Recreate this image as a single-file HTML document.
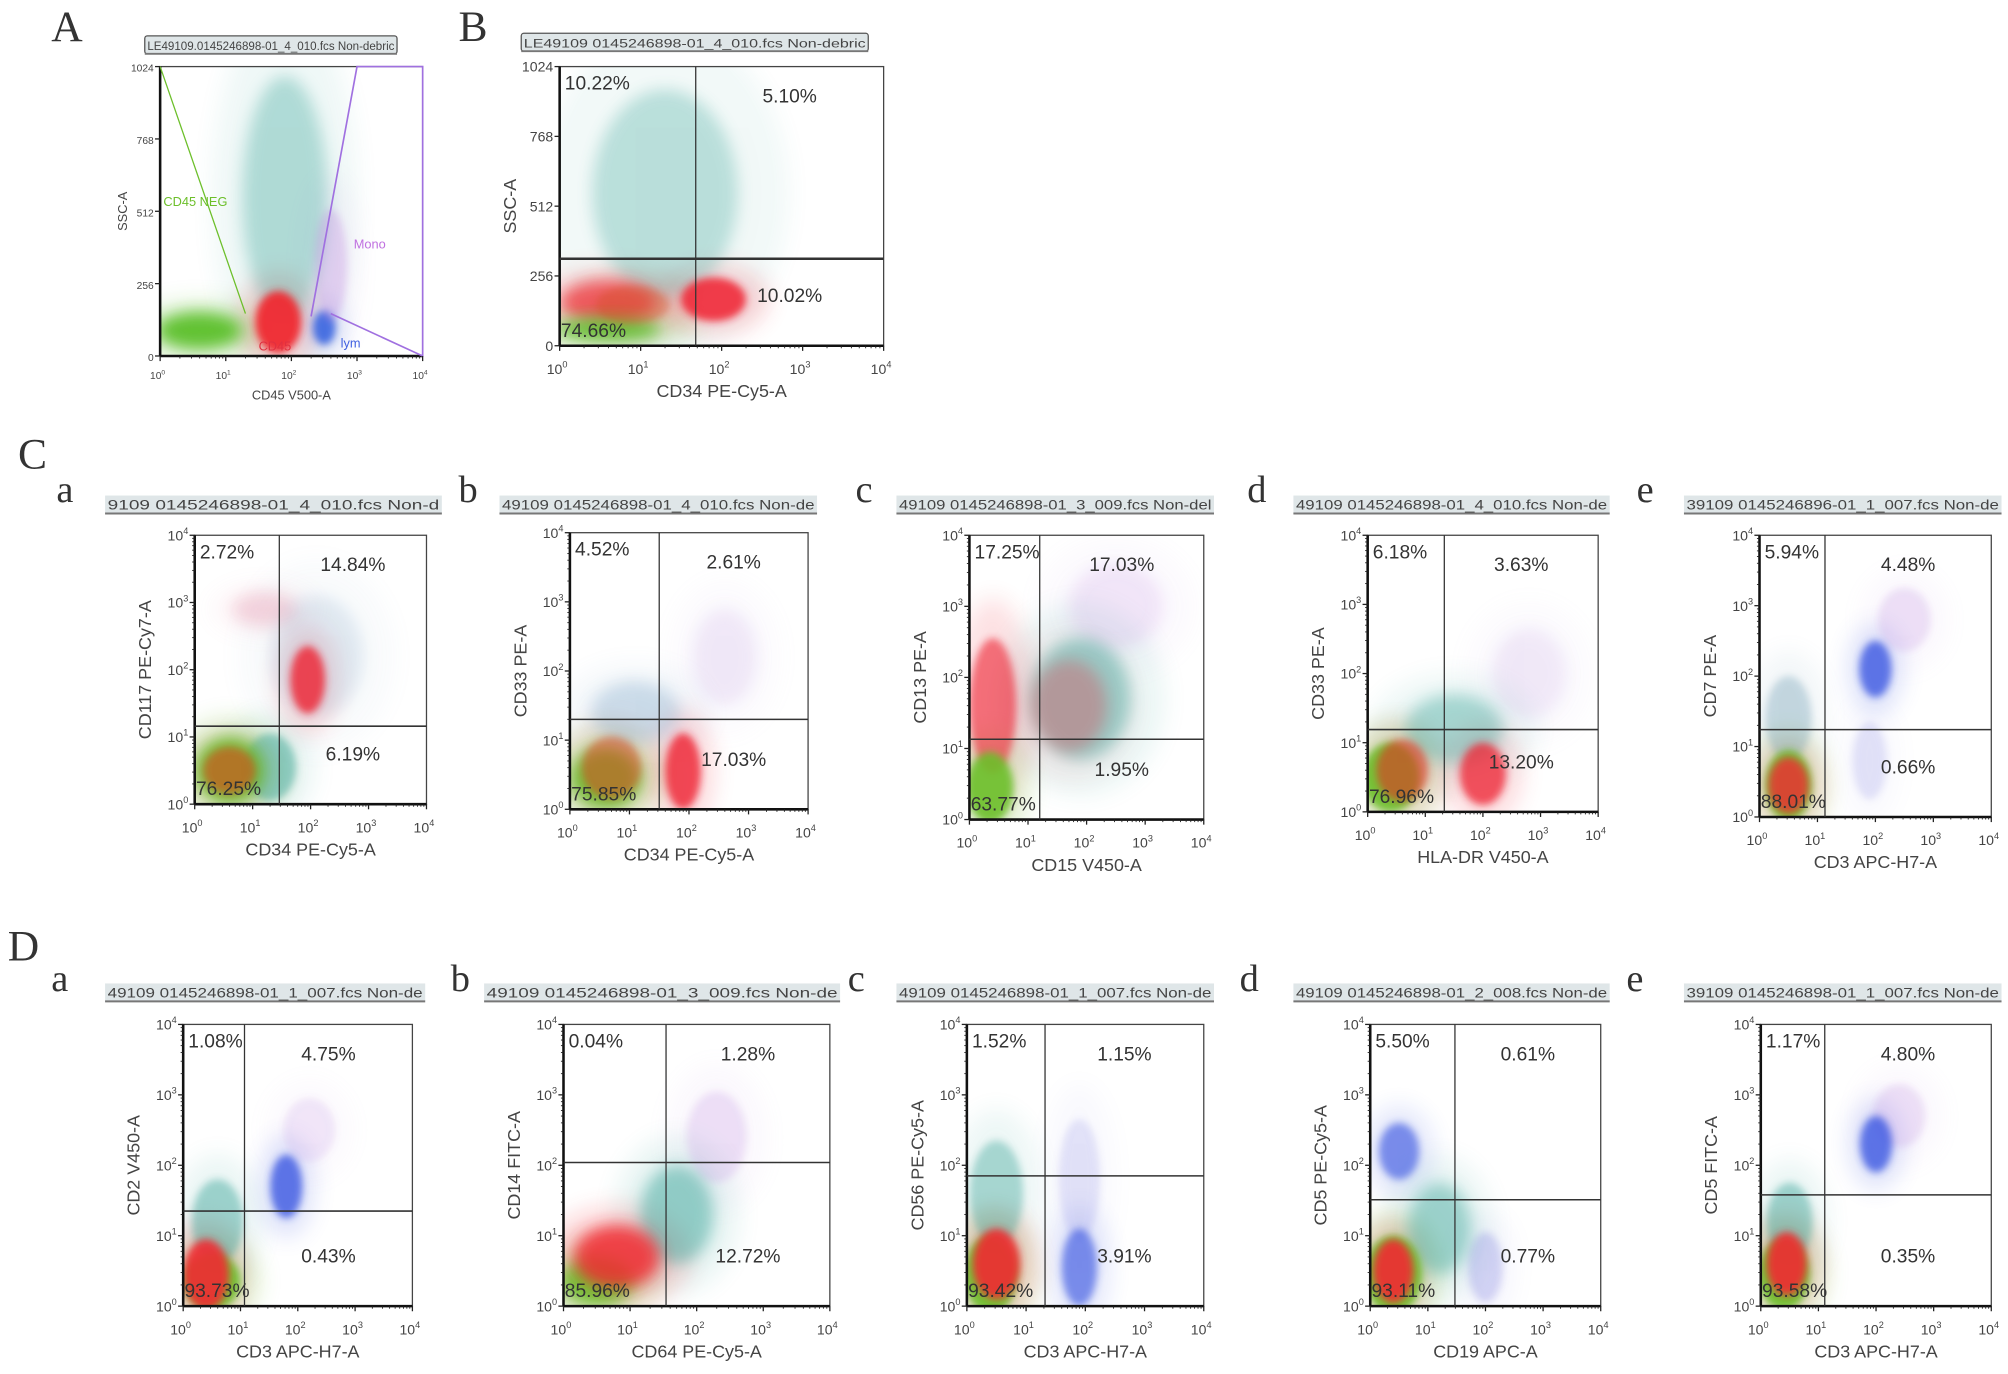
<!DOCTYPE html>
<html><head><meta charset="utf-8"><style>
html,body{margin:0;padding:0;background:#fff;}
svg{display:block;}
text{font-family:"Liberation Sans",sans-serif;}
.let{font-family:"Liberation Serif",serif;}
</style></head><body>
<svg id="fig" width="2008" height="1374" viewBox="0 0 1568 1073" xmlns="http://www.w3.org/2000/svg">
<defs>
<filter id="bl" x="-50%" y="-50%" width="200%" height="200%"><feGaussianBlur stdDeviation="3"/></filter>
<filter id="bl2" x="-50%" y="-50%" width="200%" height="200%"><feGaussianBlur stdDeviation="6"/></filter>
<filter id="bl3" x="-50%" y="-50%" width="200%" height="200%"><feGaussianBlur stdDeviation="9"/></filter>
</defs>
</svg>
<script>
// ---- data arrays ----
const panelIds = ["A","B","Ca","Cb","Cc","Cd","Ce","Da","Db","Dc","Dd","De"];
const headerTexts = [
"LE49109.0145246898-01_4_010.fcs   Non-debric","LE49109 0145246898-01_4_010.fcs   Non-debric",
"9109 0145246898-01_4_010.fcs   Non-d","49109 0145246898-01_4_010.fcs   Non-de","49109 0145246898-01_3_009.fcs   Non-del",
"49109 0145246898-01_4_010.fcs   Non-de","39109 0145246896-01_1_007.fcs   Non-de",
"49109 0145246898-01_1_007.fcs   Non-de","49109 0145246898-01_3_009.fcs   Non-de","49109 0145246898-01_1_007.fcs   Non-de",
"49109 0145246898-01_2_008.fcs   Non-de","39109 0145246898-01_1_007.fcs   Non-de"];
const xLabels = ["CD45 V500-A","CD34 PE-Cy5-A","CD34 PE-Cy5-A","CD34 PE-Cy5-A","CD15 V450-A","HLA-DR V450-A","CD3 APC-H7-A","CD3 APC-H7-A","CD64 PE-Cy5-A","CD3 APC-H7-A","CD19 APC-A","CD3 APC-H7-A"];
const yLabels = ["SSC-A","SSC-A","CD117 PE-Cy7-A","CD33 PE-A","CD13 PE-A","CD33 PE-A","CD7 PE-A","CD2 V450-A","CD14 FITC-A","CD56 PE-Cy5-A","CD5 PE-Cy5-A","CD5 FITC-A"];
const quadX = [null,1.68,1.46,1.5,1.2,1.33,1.13,1.07,1.54,1.32,1.47,1.11];
const quadY = [null,319,1.16,1.3,1.13,1.19,1.24,1.35,2.04,1.85,1.51,1.58];
const pctUL = ["","10.22%","2.72%","4.52%","17.25%","6.18%","5.94%","1.08%","0.04%","1.52%","5.50%","1.17%"];
const pctUR = ["","5.10%","14.84%","2.61%","17.03%","3.63%","4.48%","4.75%","1.28%","1.15%","0.61%","4.80%"];
const pctLL = ["","74.66%","76.25%","75.85%","63.77%","76.96%","88.01%","93.73%","85.96%","93.42%","93.11%","93.58%"];
const pctLR = ["","10.02%","6.19%","17.03%","1.95%","13.20%","0.66%","0.43%","12.72%","3.91%","0.77%","0.35%"];
// clusters: [x(log10), y, spreadX, spreadY, colour, opacity]
const clustersA = [[1.9,560,0.65,430,"#3aa59a",0.35],[0.6,90,0.65,65,"#5cbf2a",0.95],[1.8,120,0.35,110,"#f02a30",0.95],[2.5,100,0.17,60,"#3060e0",0.85],[2.6,320,0.25,200,"#c080e0",0.3]];
const clustersB = [[1.3,560,0.9,380,"#3aa59a",0.3],[0.6,160,0.6,80,"#ee2a33",0.7],[1.9,170,0.4,80,"#f02030",0.85],[0.6,60,0.65,45,"#5cbf2a",0.85],[0.9,150,0.45,70,"#d05020",0.4]];
const clustersCa = [[2.1,2.2,0.8,0.9,"#7aa0c0",0.2],[1.3,0.55,0.45,0.5,"#3aa59a",0.5],[0.6,0.5,0.6,0.5,"#6cb82a",0.9],[0.6,0.5,0.45,0.35,"#d94a1a",0.6],[1.95,1.85,0.3,0.5,"#ee2233",0.8],[1.2,2.9,0.55,0.25,"#e07090",0.25]];
const clustersCb = [[2.6,2.2,0.55,0.7,"#c0a0e0",0.2],[1.1,1.4,0.75,0.45,"#6a9ac0",0.3],[0.6,0.45,0.6,0.45,"#6cb82a",0.9],[0.7,0.6,0.5,0.45,"#e04020",0.5],[1.9,0.55,0.3,0.55,"#ee2233",0.8]];
const clustersCc = [[2.5,3.0,0.8,0.6,"#c090e0",0.2],[1.9,1.7,0.85,0.85,"#3aa59a",0.45],[1.7,1.6,0.65,0.65,"#e04050",0.35],[0.4,1.6,0.4,0.95,"#ee2233",0.6],[0.35,0.45,0.4,0.5,"#6cbf2a",0.9]];
const clustersCd = [[2.8,2.0,0.65,0.65,"#c0a0e0",0.2],[1.5,1.2,0.85,0.5,"#3aa59a",0.4],[0.4,0.5,0.5,0.5,"#6cbf2a",0.9],[0.6,0.6,0.45,0.45,"#e03020",0.6],[2.0,0.55,0.4,0.45,"#ee2233",0.75]];
const clustersCe = [[2.5,2.8,0.45,0.45,"#c090e0",0.25],[1.9,0.8,0.3,0.55,"#8080e0",0.2],[0.5,1.4,0.4,0.6,"#6a9ab0",0.35],[0.5,0.45,0.4,0.5,"#6cbf2a",0.9],[0.5,0.45,0.35,0.4,"#f02a30",0.8],[2.0,2.1,0.28,0.4,"#3050e0",0.75]];
const clustersDa = [[2.2,2.5,0.45,0.45,"#c090e0",0.2],[0.6,1.2,0.45,0.6,"#3aa59a",0.45],[0.5,0.35,0.5,0.4,"#6cbf2a",0.9],[0.4,0.45,0.4,0.5,"#f02a30",0.9],[1.8,1.7,0.28,0.45,"#3050e0",0.75]];
const clustersDb = [[2.3,2.4,0.45,0.65,"#c090e0",0.25],[1.7,1.3,0.55,0.7,"#3aa59a",0.5],[0.5,0.35,0.55,0.35,"#6cbf2a",0.9],[0.8,0.7,0.65,0.45,"#f02a30",0.85]];
const clustersDc = [[1.9,1.8,0.35,0.85,"#8080e0",0.2],[0.5,1.6,0.45,0.75,"#3aa59a",0.4],[0.4,0.45,0.45,0.55,"#6cbf2a",0.9],[0.5,0.6,0.4,0.5,"#f02a30",0.9],[1.9,0.55,0.3,0.55,"#3050e0",0.6]];
const clustersDd = [[2.0,0.55,0.3,0.5,"#8080e0",0.3],[1.2,1.1,0.55,0.65,"#3aa59a",0.45],[0.4,0.45,0.5,0.55,"#6cbf2a",0.9],[0.4,0.5,0.35,0.45,"#f02a30",0.9],[0.5,2.2,0.35,0.4,"#3050e0",0.6]];
const clustersDe = [[2.4,2.7,0.45,0.45,"#c090e0",0.25],[0.5,1.2,0.4,0.55,"#3aa59a",0.45],[0.4,0.45,0.45,0.5,"#6cbf2a",0.9],[0.45,0.6,0.35,0.45,"#f02a30",0.9],[2.0,2.3,0.28,0.4,"#3050e0",0.75]];
const clusterSets = [clustersA,clustersB,clustersCa,clustersCb,clustersCc,clustersCd,clustersCe,clustersDa,clustersDb,clustersDc,clustersDd,clustersDe];
const logTicks = [0,1,2,3,4];
const linTicks = [0,256,512,768,1024];

// ---- layout (displayed units) ----
const boxes = [[125,52,330,278],[437,52,690,270],[152,418,333,628],[445,416,631,632],[757,418,940,640],[1068,418,1248,634],[1374,418,1555,638],[143,800,322,1020],[440,800,648,1020],[755,800,940,1020],[1070,800,1250,1020],[1375,800,1555,1020]];
const headers = [[113,310,30],[407,678,28],[82,345,389],[390,638,389],[700,948,389],[1010,1257,389],[1315,1563,389],[82,332,770],[378,656,770],[700,948,770],[1010,1257,770],[1315,1563,770]];
const letters = [["A",40,32,34],["B",358,32,34],["C",14,366,34],["a",44,392,30],["b",358,392,30],["c",668,392,30],["d",974,392,30],["e",1278,392,30],["D",6,750,34],["a",40,774,30],["b",352,774,30],["c",662,774,30],["d",968,774,30],["e",1270,774,30]];

const NS="http://www.w3.org/2000/svg";
const svg=document.getElementById('fig');
function mk(tag,attrs,parent){const e=document.createElementNS(NS,tag);for(const k in attrs)e.setAttribute(k,attrs[k]);(parent||svg).appendChild(e);return e;}

letters.forEach(l=>{
  const t=mk('text',{x:l[1],y:l[2],'font-size':l[3],fill:'#333',class:'let'});
  
  
  t.textContent=l[0];
});

panelIds.forEach((pid,i)=>{
  const [x0,y0,x1,y1]=boxes[i];
  const linY = i<2;
  const g=mk('g',{});
  
  
  const sx=v=>x0+(v/4)*(x1-x0);
  const sy=v=>linY? y1-(v/1024)*(y1-y0) : y1-(v/4)*(y1-y0);
  const sdy=v=>linY? (v/1024)*(y1-y0) : (v/4)*(y1-y0);
  const h=headers[i];
  const hb=mk('rect',{x:h[0],y:h[2]-2,width:h[1]-h[0],height:14,fill:'#dfe6e8',stroke:i<2?'#555':'none','stroke-width':1,rx:i<2?2:0},g);
  
  
  mk('line',{x1:h[0],x2:h[1],y1:h[2]+12,y2:h[2]+12,stroke:'#777','stroke-width':1.5},g);
  const ht=mk('text',{x:h[0]+2,y:h[2]+9,'font-size':i<2?9:11,fill:'#444',textLength:h[1]-h[0]-4,lengthAdjust:'spacingAndGlyphs'},g);
  
  
  ht.textContent=headerTexts[i];
  const cp=mk('clipPath',{id:'cp'+i},g);mk('rect',{x:x0,y:y0,width:x1-x0,height:y1-y0},cp);
  const cg=mk('g',{'clip-path':'url(#cp'+i+')'},g);
  // faint halos (scattered events)
  clusterSets[i].forEach((c,k)=>{
    const e=mk('ellipse',{cx:sx(c[0]),cy:sy(c[1]),rx:(c[2]*1.7/4)*(x1-x0),ry:sdy(c[3]*1.6),fill:c[4],opacity:c[5]*0.22,filter:'url(#bl3)'},cg);
    
    
  });
  clusterSets[i].forEach((c,k)=>{
    const e=mk('ellipse',{cx:sx(c[0]),cy:sy(c[1]),rx:(c[2]/4)*(x1-x0),ry:sdy(c[3]),fill:c[4],opacity:c[5],filter:c[2]>0.5?'url(#bl2)':'url(#bl)'},cg);
    
    
  });
  mk('rect',{x:x0,y:y0,width:x1-x0,height:y1-y0,fill:'none',stroke:'#444','stroke-width':1},g);
  mk('line',{x1:x0,x2:x0,y1:y0,y2:y1,stroke:'#111','stroke-width':2},g);
  mk('line',{x1:x0,x2:x1,y1:y1,y2:y1,stroke:'#111','stroke-width':2},g);
  if(i===0){
    const gl=mk('polyline',{points:[sx(0)+','+sy(1024),sx(1.3)+','+sy(150)].join(' '),fill:'none',stroke:'#6cbf2a','stroke-width':1},g);
    
    
    const pg=mk('polyline',{points:[sx(2.3)+','+sy(140),sx(3.0)+','+sy(1024),sx(4)+','+sy(1024),sx(4)+','+sy(0),sx(2.6)+','+sy(150)].join(' '),fill:'none',stroke:'#a070e0','stroke-width':1.3},g);
    
    
    [["CD45 NEG",0.05,530,"#6cbf2a"],["Mono",2.95,380,"#c070e0"],["CD45",1.5,20,"#e03040"],["lym",2.75,30,"#4060e0"]].forEach(a=>{
      const t=mk('text',{x:sx(a[1]),y:sy(a[2]),'font-size':10,fill:a[3]},g);
      
      
      t.textContent=a[0];
    });
  }
  if(quadX[i]!==null){
    const ql=mk('line',{x1:sx(quadX[i]),x2:sx(quadX[i]),y1:y0,y2:y1,stroke:'#333','stroke-width':1},g);
    
    
    const qh=mk('line',{x1:x0,x2:x1,y1:sy(quadY[i]),y2:sy(quadY[i]),stroke:'#333','stroke-width':i===1?2:1.2},g);
    
    
    const fs=15;
    const rx=sx(quadX[i])+(x1-sx(quadX[i]))/2;
    [[pctUL[i],x0+4,y0+18,'start','pct-upper-left'],[pctUR[i],rx,y0+28,'middle','pct-upper-right'],[pctLL[i],x0+1,y1-7,'start','pct-lower-left'],[pctLR[i],rx,y1-34,'middle','pct-lower-right']].forEach(p=>{
      const t=mk('text',{x:p[1],y:p[2],'font-size':fs,fill:'#333','text-anchor':p[3]},g);
      
      
      t.textContent=p[0];
    });
  }
  const tfs=i===0?8:11;
  logTicks.forEach(d=>{
    mk('line',{x1:sx(d),x2:sx(d),y1:y1,y2:y1+4,stroke:'#222','stroke-width':1},g);
    if(d<4) for(let m=2;m<10;m++){const xv=d+Math.log10(m);mk('line',{x1:sx(xv),x2:sx(xv),y1:y1,y2:y1+2,stroke:'#222','stroke-width':0.7},g);}
    const t=mk('text',{x:sx(d)-2,y:y1+(i===0?18:22),'font-size':tfs,fill:'#444','text-anchor':'middle'},g);
    
    
    t.textContent='10';
    const s=mk('tspan',{dy:-tfs*0.45,'font-size':tfs*0.65},t);s.textContent=d;
  });
  (linY?linTicks:logTicks).forEach(d=>{
    mk('line',{x1:x0-4,x2:x0,y1:sy(d),y2:sy(d),stroke:'#222','stroke-width':1},g);
    if(!linY && d<4) for(let m=2;m<10;m++){const yv=d+Math.log10(m);mk('line',{x1:x0-2,x2:x0,y1:sy(yv),y2:sy(yv),stroke:'#222','stroke-width':0.7},g);}
    const t=mk('text',{x:x0-5,y:sy(d)+4,'font-size':linY?(i===0?8:11):tfs,fill:'#444','text-anchor':'end'},g);
    
    
    if(linY){t.textContent=d;}else{t.textContent='10';const s=mk('tspan',{dy:-tfs*0.45,'font-size':tfs*0.65},t);s.textContent=d;}
  });
  const afs=i===0?10:14;
  const xt=mk('text',{x:(x0+x1)/2,y:y1+(i===0?34:40),'font-size':afs,fill:'#444','text-anchor':'middle'},g);
  
  
  xt.textContent=xLabels[i];
  const yx=x0-(i===0?26:34), yy=(y0+y1)/2;
  const yt=mk('text',{x:yx,y:yy,'font-size':afs,fill:'#444','text-anchor':'middle',transform:'rotate(-90 '+yx+' '+yy+')'},g);
  
  
  yt.textContent=yLabels[i];
});
</script>
</body></html>
